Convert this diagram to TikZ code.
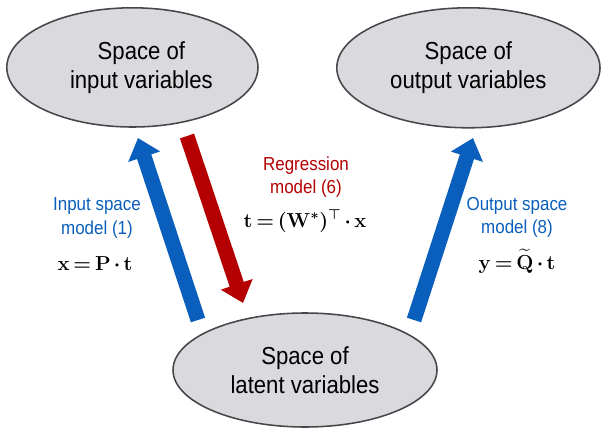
\documentclass[tikz,border=0pt]{standalone}
\usepackage{amsmath,amssymb}
\usepackage{fontspec}
\newfontfamily\diagfont[FakeStretch=0.9]{Liberation Sans}
\usetikzlibrary{shapes.geometric,arrows.meta,positioning}

\definecolor{spacefill}{RGB}{217,217,222}
\definecolor{spaceline}{RGB}{70,70,74}
\definecolor{modelblue}{RGB}{10,94,188}
\definecolor{modelred}{RGB}{180,0,0}

% tighter math spacing for the model equations
\newcommand{\eqtight}{\thickmuskip=3mu\relax\medmuskip=2.5mu\relax}

\begin{document}
\begin{tikzpicture}[
  space/.style={ellipse, draw=spaceline, fill=spacefill, line width=1.1pt,
    inner sep=0pt, align=center, font=\diagfont\fontsize{17.5}{20.5}\selectfont},
  lbl/.style={align=center, inner sep=1pt,
    font=\diagfont\fontsize{13.4}{16.5}\selectfont},
  eq/.style={anchor=base, inner sep=1pt,
    font=\fontsize{14.2}{16}\selectfont\boldmath},
  bigarr/.style={line width=10.6pt, -{Triangle[length=14pt,width=23pt]}}
]
\useasboundingbox (0,0) rectangle (15.075,10.725);

% Spaces
\node[space, minimum width=6.28cm, minimum height=2.98cm] (input) at (3.31,9.04)
  {\hspace*{0.45cm}Space of\\\hspace*{0.45cm}input variables};
\node[space, minimum width=6.58cm, minimum height=3.0cm] (output) at (11.71,9.03)
  {Space of\\output variables};
\node[space, minimum width=6.6cm, minimum height=2.85cm] (latent) at (7.625,1.475)
  {Space of\\latent variables};

% Arrow ends
\coordinate (inTail) at (4.95,2.725);
\coordinate (inTip) at (3.45,7.275);
\coordinate (regTail) at (4.675,7.325);
\coordinate (regTip) at (6.075,3.15);
\coordinate (outTail) at (10.35,2.725);
\coordinate (outTip) at (11.825,7.275);

% Models
\draw[bigarr, modelblue] (inTail) -- (inTip);
\draw[bigarr, modelred] (regTail) -- (regTip);
\draw[bigarr, modelblue] (outTail) -- (outTip);

% Labels
\node[lbl, text=modelblue] (inlbl) at (2.425,5.275) {Input space\\model (1)};
\node[eq] (ineq) at (2.375,3.975) {$\eqtight\mathbf{x}=\mathbf{P}\cdot\mathbf{t}$};
\node[lbl, text=modelred] (reglbl) at (7.65,6.3) {Regression\\model (6)};
\node[eq] (regeq) at (7.625,5.05) {$\eqtight\mathbf{t}=(\mathbf{W}^{*})^{\top}\cdot\mathbf{x}$};
\node[lbl, text=modelblue] (outlbl) at (12.925,5.3) {Output space\\model (8)};
\node[eq] (outeq) at (12.925,4.0) {$\eqtight\mathbf{y}=\widetilde{\mathbf{Q}}\cdot\mathbf{t}$};
\end{tikzpicture}
\end{document}
